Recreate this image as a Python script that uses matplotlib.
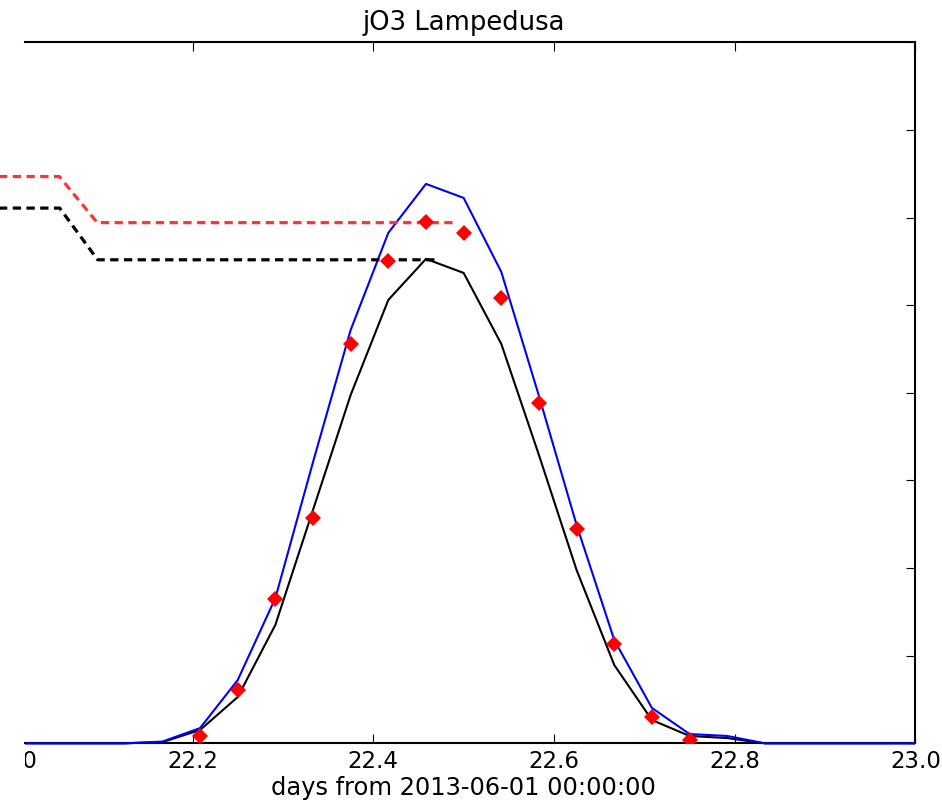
import numpy as np
import matplotlib
matplotlib.use("Agg")
import matplotlib.pyplot as plt
from matplotlib.transforms import Bbox, TransformedBbox

# ---------------------------------------------------
# Data (jO3 photolysis rate, units of 1e-5 s-1)
# ---------------------------------------------------

hours = [0, 1, 2, 3, 4, 5, 6, 7, 8, 9, 10, 11, 12,
         13, 14, 15, 16, 17, 18, 19, 20, 21, 22, 23, 24]

model_blue = [0.0, 0.0, 0.0, 0.0, 0.01, 0.087, 0.361, 0.829, 1.605,
              2.359, 2.913, 3.192, 3.112, 2.690, 1.982, 1.246, 0.590,
              0.202, 0.053, 0.042, 0.0, 0.0, 0.0, 0.0, 0.0]

model_black = [0.0, 0.0, 0.0, 0.0, 0.007, 0.076, 0.264, 0.676, 1.332,
               1.988, 2.530, 2.764, 2.684, 2.279, 1.645, 0.989, 0.447,
               0.133, 0.042, 0.030, 0.0, 0.0, 0.0, 0.0, 0.0]

obs_hours = [5, 6, 7, 8, 9, 10, 11, 12, 13, 14, 15, 16, 17, 18]
obs_vals = [0.042, 0.304, 0.824, 1.286, 2.279, 2.753, 2.976, 2.913,
            2.542, 1.942, 1.223, 0.567, 0.150, 0.019]

red_dash_x = [21.97, 22.0526, 22.0946, 22.4885]
red_dash_y = [3.234, 3.234, 2.971, 2.971]

black_dash_x = [21.97, 22.053, 22.095, 22.473]
black_dash_y = [3.054, 3.054, 2.759, 2.759]

day0 = 22.0
xticks = [22.0, 22.2, 22.4, 22.6, 22.8, 23.0]
scale = 1e-5

days = [day0 + h / 24 for h in hours]
obs_days = [day0 + h / 24 for h in obs_hours]

# ---------------------------------------------------
# Figure
# ---------------------------------------------------

fig = plt.figure(figsize=(9.42, 8.01), dpi=100)
fig.patch.set_facecolor("white")

ax = fig.add_axes([0.01253, 0.0720, 0.9593, 0.8752])

x_cut = (25 - 11.8) / 903.7
line_clip = TransformedBbox(Bbox([[x_cut, -0.01], [1.0, 1.0]]), ax.transAxes)
label_clip = TransformedBbox(Bbox([[x_cut, -0.3], [1.05, 1.0]]), ax.transAxes)

l1, = ax.plot(days, np.array(model_black) * scale, color="black", lw=1.5,
              zorder=3)
l2, = ax.plot(days, np.array(model_blue) * scale, color="blue", lw=1.5,
              zorder=3)
l1.set_clip_box(line_clip)
l2.set_clip_box(line_clip)

ax.plot(red_dash_x, np.array(red_dash_y) * scale, color="#ff3333",
        lw=2.3, dashes=(2.6, 1.7), clip_on=False, zorder=3)
ax.plot(black_dash_x, np.array(black_dash_y) * scale, color="black",
        lw=2.3, dashes=(2.6, 1.7), clip_on=False, zorder=3)

ax.plot(obs_days, np.array(obs_vals) * scale, linestyle="none",
        marker="D", ms=8.5, color="red", mec="red", mew=0, zorder=5)

ax.set_xlim(22.0, 23.0)
ax.set_ylim(0, 4e-5)

ax.set_xticks(xticks)
ax.set_xticklabels(["%.1f" % t for t in xticks])
ax.set_yticks(np.arange(0, 4.01e-5, 0.5e-5))

ax.tick_params(axis="x", direction="in", top=True, bottom=True,
               length=6.5, width=0.8, labelsize=16.5, pad=5)
ax.tick_params(axis="y", direction="in", left=False, right=True,
               labelleft=False, labelright=False, length=6.5, width=0.8)

ax.spines["left"].set_visible(False)
for side in ["top", "bottom", "right"]:
    ax.spines[side].set_linewidth(1.5)
ax.spines["top"].set_bounds(day0 + x_cut, 23.0)
ax.spines["bottom"].set_bounds(day0 + x_cut, 23.0)

first = ax.xaxis.get_major_ticks()[0]
first.tick1line.set_visible(False)
first.tick2line.set_visible(False)
first.label1.set_clip_on(True)
first.label1.set_clip_box(label_clip)

ax.set_xlabel("days from 2013-06-01 00:00:00", fontsize=17.4, labelpad=2)
ax.set_title("jO3 Lampedusa", fontsize=18.6, pad=9)

fig.savefig("out.png", dpi=100, facecolor="white")
